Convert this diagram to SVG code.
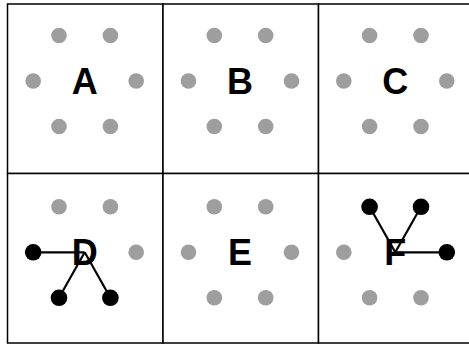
<svg xmlns="http://www.w3.org/2000/svg" width="469" height="344" viewBox="0 0 469 344">
<style>
.cell{fill:#fff;stroke:#000;stroke-width:1.5}
.p{fill:#9e9e9e}
.b{fill:#000}
.lbl{font-family:"Liberation Sans",Arial,sans-serif;font-weight:bold;font-size:36px;text-anchor:middle;fill:#000}
.e{stroke:#000;stroke-width:2.2;fill:none}
</style>
<defs>
<g id="hex">
<circle class="p" cx="-25.7" cy="-45.5" r="7.8"/>
<circle class="p" cx="25.7" cy="-45.5" r="7.8"/>
<circle class="p" cx="-51.5" cy="0" r="7.8"/>
<circle class="p" cx="51.5" cy="0" r="7.8"/>
<circle class="p" cx="-25.7" cy="45.5" r="7.8"/>
<circle class="p" cx="25.7" cy="45.5" r="7.8"/>
</g>
</defs>
<g id="cells">
<rect class="cell" x="7.5" y="4" width="155.5" height="169.5"/>
<rect class="cell" x="163" y="4" width="155.5" height="169.5"/>
<rect class="cell" x="318.5" y="4" width="155.5" height="169.5"/>
<rect class="cell" x="7.5" y="173.5" width="155.5" height="169.5"/>
<rect class="cell" x="163" y="173.5" width="155.5" height="169.5"/>
<rect class="cell" x="318.5" y="173.5" width="155.5" height="169.5"/>
</g>
<g id="A"><use href="#hex" x="84.7" y="81"/><text class="lbl" x="84.7" y="94">A</text></g>
<g id="B"><use href="#hex" x="240" y="81"/><text class="lbl" x="240" y="94">B</text></g>
<g id="C"><use href="#hex" x="395.3" y="81"/><text class="lbl" x="395.3" y="94">C</text></g>
<g id="D"><use href="#hex" x="84.7" y="252.3"/><text class="lbl" x="84.7" y="265.3">D</text></g>
<g id="E"><use href="#hex" x="240" y="252.3"/><text class="lbl" x="240" y="265.3">E</text></g>
<g id="F"><use href="#hex" x="395.3" y="252.3"/><text class="lbl" x="395.3" y="265.3">F</text></g>
<g id="connectors">
<line class="e" x1="33.2" y1="252.3" x2="84.7" y2="252.3"/>
<line class="e" x1="59" y1="297.8" x2="84.7" y2="252.3"/>
<line class="e" x1="110.4" y1="297.8" x2="84.7" y2="252.3"/>
<circle class="b" cx="33.2" cy="252.3" r="8.3"/>
<circle class="b" cx="59" cy="297.8" r="8.3"/>
<circle class="b" cx="110.4" cy="297.8" r="8.3"/>
<line class="e" x1="369.6" y1="206.8" x2="395.3" y2="252.3"/>
<line class="e" x1="421" y1="206.8" x2="395.3" y2="252.3"/>
<line class="e" x1="446.8" y1="252.3" x2="395.3" y2="252.3"/>
<circle class="b" cx="369.6" cy="206.8" r="8.3"/>
<circle class="b" cx="421" cy="206.8" r="8.3"/>
<circle class="b" cx="446.8" cy="252.3" r="8.3"/>
</g>
</svg>
